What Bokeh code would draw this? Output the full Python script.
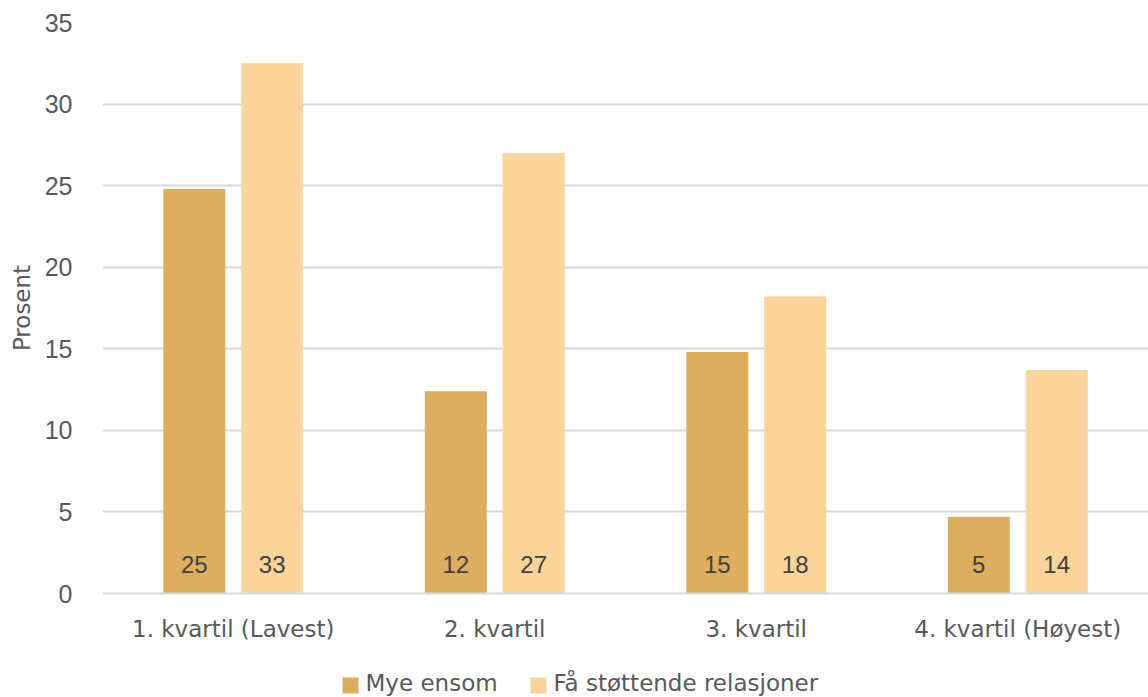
from bokeh.plotting import figure
from bokeh.layouts import column
from bokeh.models import ColumnDataSource, FactorRange, Range1d, FixedTicker
from bokeh.transform import dodge
from bokeh.core.properties import value
from bokeh.embed import file_html
from bokeh.resources import INLINE

categories = ["1. kvartil (Lavest)", "2. kvartil", "3. kvartil", "4. kvartil (Høyest)"]
mye_ensom = [24.8, 12.4, 14.8, 4.7]
faa_stottende = [32.5, 27.0, 18.2, 13.7]
series_names = ["Mye ensom", "Få støttende relasjoner"]
colors = ["#DDAE5F", "#F9D59C"]
y_ticks = [0, 5, 10, 15, 20, 25, 30, 35]

label_y = 1.75
src = ColumnDataSource(dict(
    cat=categories,
    a=mye_ensom,
    b=faa_stottende,
    a_lab=[str(int(v + 0.5)) for v in mye_ensom],
    b_lab=[str(int(v + 0.5)) for v in faa_stottende],
    ly=[label_y] * len(categories),
))

p = figure(x_range=FactorRange(*categories, range_padding=0), y_range=Range1d(0, 35),
           frame_width=1046, frame_height=571, output_backend="svg", toolbar_location=None,
           min_border_left=102, min_border_right=0, min_border_top=22, min_border_bottom=67)

off = 0.149
bw = 0.237
p.vbar(x=dodge("cat", -off, range=p.x_range), top="a", width=bw, source=src,
       fill_color=colors[0], line_color=None)
p.vbar(x=dodge("cat", off, range=p.x_range), top="b", width=bw, source=src,
       fill_color=colors[1], line_color=None)

for xo, col in [(-off, "a_lab"), (off, "b_lab")]:
    p.text(x=dodge("cat", xo, range=p.x_range), y="ly", text=col, source=src,
           text_align="center", text_baseline="middle", text_color="#404040",
           text_font=value("Liberation Sans"), text_font_size="24px")

p.outline_line_color = None
p.xgrid.grid_line_color = None
p.ygrid.grid_line_color = "#D9D9D9"
p.ygrid.grid_line_width = 2
p.yaxis.ticker = FixedTicker(ticks=y_ticks)
p.yaxis.axis_line_color = None
p.yaxis.major_tick_line_color = None
p.yaxis.minor_tick_line_color = None
p.yaxis.major_label_text_font = "Liberation Sans"
p.yaxis.major_label_text_font_size = "25px"
p.yaxis.major_label_text_color = "#595959"
p.yaxis.major_label_standoff = 24
p.yaxis.axis_label = "Prosent"
p.yaxis.axis_label_text_font = "DejaVu Sans"
p.yaxis.axis_label_text_font_size = "23px"
p.yaxis.axis_label_text_font_style = "normal"
p.yaxis.axis_label_text_color = "#595959"
p.yaxis.axis_label_standoff = 7

p.xaxis.axis_line_color = "#D9D9D9"
p.xaxis.axis_line_width = 2
p.xaxis.major_tick_line_color = None
p.xaxis.minor_tick_line_color = None
p.xaxis.major_label_text_font = "DejaVu Sans"
p.xaxis.major_label_text_font_size = "23px"
p.xaxis.major_label_text_color = "#595959"
p.xaxis.major_label_standoff = 16

# Legend drawn in a small strip figure below; its frame is aligned with the main frame
leg_h = 36
lg = figure(frame_width=1046, frame_height=leg_h, x_range=Range1d(102, 1148),
            y_range=Range1d(0, leg_h),
            output_backend="svg", toolbar_location=None, x_axis_type=None, y_axis_type=None,
            min_border_left=102, min_border_right=0, min_border_top=0, min_border_bottom=0,
            outline_line_color=None)
lg.grid.visible = False
sw_x = [350, 538]
txt_x = [365, 553]
lg.rect(x=sw_x, y=[11, 11], width=16, height=16, fill_color=colors, line_color=None)
lg.text(x=txt_x, y=[14, 14], text=series_names, text_align="left", text_baseline="middle",
        text_color="#595959", text_font=value("DejaVu Sans"), text_font_size="23px")

open("out.html", "w").write(file_html(column(p, lg, spacing=0), INLINE))
